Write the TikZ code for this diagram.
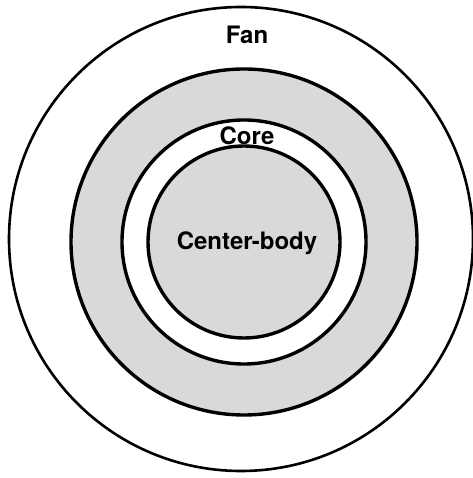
\documentclass[tikz,border=0pt]{standalone}
\usepackage{fontspec}
\setmainfont{TeX Gyre Heros}
\usepackage{xcolor}
\definecolor{ringgray}{gray}{0.85}
\begin{document}
\begin{tikzpicture}[x=1pt,y=1pt]
			\useasboundingbox (0,0) rectangle (472,478);
			\def\cx{244}
			\def\cy{236}
			
			% outer fan circle
			\draw[line width=2.6pt] (241,239) circle (232);
			
			% shaded bypass ring and center-body
			\fill[ringgray,draw=black,line width=3.4pt] (\cx,\cy) circle (173);
			\fill[white,draw=black,line width=3.4pt] (\cx,\cy) circle (122);
			\fill[ringgray,draw=black,line width=3.4pt] (\cx,\cy) circle (96);
			
			\node (t1) at (247,443) {\fontsize{24}{26}\selectfont\bfseries Fan};
			\node (t2) at (247,342) {\fontsize{24}{26}\selectfont\bfseries Core};
			\node (t3) at (247,235) {\fontsize{24}{26}\selectfont\bfseries Center-body};
		\end{tikzpicture}
\end{document}
